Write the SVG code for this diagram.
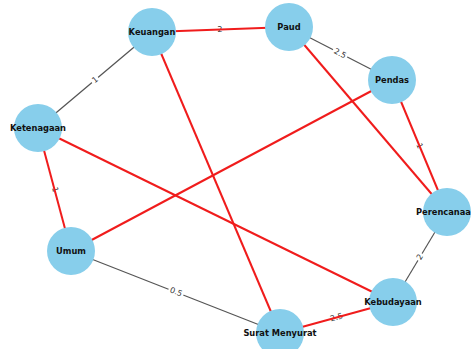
<svg xmlns="http://www.w3.org/2000/svg" width="472" height="349" viewBox="0 0 472 349">
<style>
.g{stroke:#555;stroke-width:1.2;fill:none}
.r{stroke:#f01c1c;stroke-width:2;fill:none}
.bg{fill:#fff}
.el{font-family:"DejaVu Sans",sans-serif;font-size:8px;fill:#333;text-anchor:middle;dominant-baseline:central}
.n{fill:#87CEEB}
.nl{font-family:"DejaVu Sans",sans-serif;font-size:8.3px;font-weight:bold;fill:#111;text-anchor:middle;dominant-baseline:central}
</style>
<rect width="472" height="349" fill="#fff"/>
<g id="connectors">
<line class="g" x1="289" y1="27" x2="392" y2="80"/>
<line class="g" x1="152" y1="32" x2="38" y2="128"/>
<line class="g" x1="447" y1="212" x2="393" y2="302"/>
<line class="g" x1="71" y1="251" x2="280" y2="333"/>
<g transform="translate(340,53.5) rotate(27.2)"><rect class="bg" x="-8" y="-5" width="16" height="10"/><text class="el" x="0" y="0">2.5</text></g>
<g transform="translate(95,80) rotate(-40.1)"><rect class="bg" x="-4" y="-5" width="8" height="10"/><text class="el" x="0" y="0">1</text></g>
<g transform="translate(420,257) rotate(-59)"><rect class="bg" x="-4" y="-5" width="8" height="10"/><text class="el" x="0" y="0">2</text></g>
<g transform="translate(176,292) rotate(21.4)"><rect class="bg" x="-8" y="-5" width="16" height="10"/><text class="el" x="0" y="0">0.5</text></g>
<g transform="translate(220,29.5) rotate(-2.1)"><text class="el" x="0" y="0">2</text></g>
<g transform="translate(55,189.5) rotate(75)"><text class="el" x="0" y="0">1</text></g>
<g transform="translate(419.5,146) rotate(67.4)"><text class="el" x="0" y="0">1</text></g>
<g transform="translate(336.5,317.5) rotate(-15.3)"><text class="el" x="0" y="0">2.5</text></g>
<line class="r" x1="152" y1="32" x2="289" y2="27"/>
<line class="r" x1="38" y1="128" x2="71" y2="251"/>
<line class="r" x1="38" y1="128" x2="393" y2="302"/>
<line class="r" x1="152" y1="32" x2="280" y2="333"/>
<line class="r" x1="289" y1="27" x2="447" y2="212"/>
<line class="r" x1="392" y1="80" x2="447" y2="212"/>
<line class="r" x1="392" y1="80" x2="71" y2="251"/>
<line class="r" x1="393" y1="302" x2="280" y2="333"/>
</g>
<g id="node-keuangan"><circle class="n" cx="152" cy="32" r="24"/><text class="nl" x="152" y="32">Keuangan</text></g>
<g id="node-paud"><circle class="n" cx="289" cy="27" r="24"/><text class="nl" x="289" y="27">Paud</text></g>
<g id="node-pendas"><circle class="n" cx="392" cy="80" r="24"/><text class="nl" x="392" y="80">Pendas</text></g>
<g id="node-ketenagaan"><circle class="n" cx="38" cy="128" r="24"/><text class="nl" x="38" y="128">Ketenagaan</text></g>
<g id="node-umum"><circle class="n" cx="71" cy="251" r="24"/><text class="nl" x="71" y="251">Umum</text></g>
<g id="node-perencanaan"><circle class="n" cx="447" cy="212" r="24"/><text class="nl" x="416" y="212" style="text-anchor:start">Perencanaa</text></g>
<g id="node-kebudayaan"><circle class="n" cx="393" cy="302" r="24"/><text class="nl" x="393" y="302">Kebudayaan</text></g>
<g id="node-surat-menyurat"><circle class="n" cx="280" cy="333" r="24"/><text class="nl" x="280" y="333">Surat Menyurat</text></g>
</svg>
